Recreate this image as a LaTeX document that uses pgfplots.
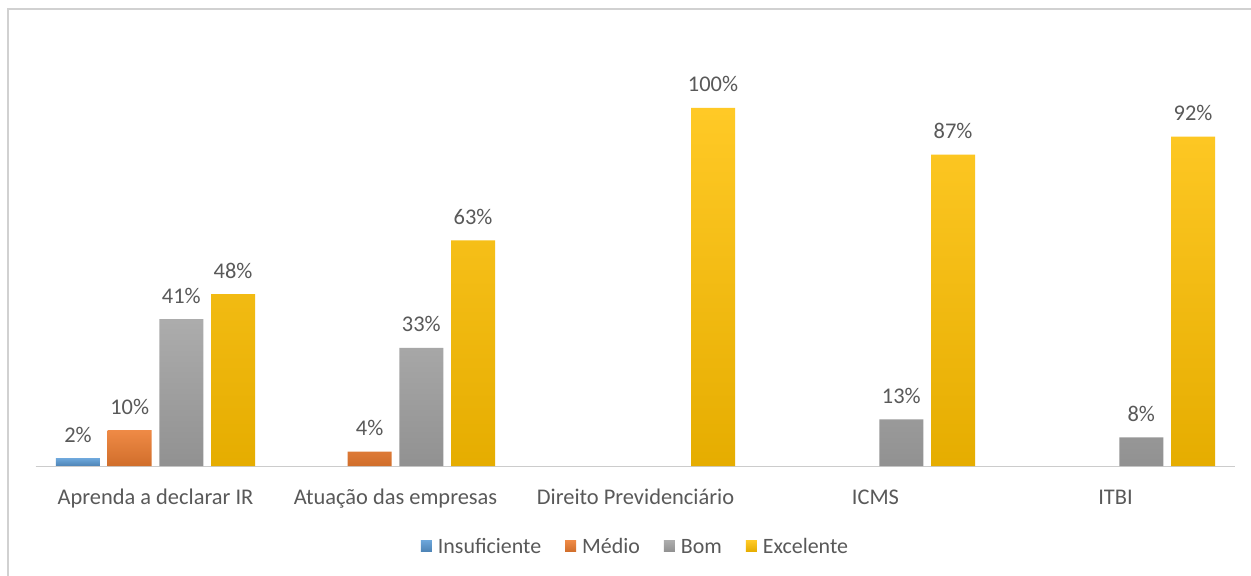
\documentclass[border=0pt]{standalone}
\usepackage{pgfplots}
\pgfplotsset{compat=1.18}
\usepackage{fontspec}
\setmainfont{Carlito}
\definecolor{cBlue}{HTML}{5B9BD5}
\definecolor{cOrange}{HTML}{ED7D31}
\definecolor{cGray}{HTML}{A5A5A5}
\definecolor{cGold}{HTML}{FFC000}
\definecolor{txt}{HTML}{595959}
\begin{document}
\begin{tikzpicture}
\useasboundingbox (0,0) rectangle (1251bp,576bp);
\fill[white] (0,0) rectangle (1251bp,576bp);
\draw[black!18, line width=1.5bp] (8bp,0) -- (8bp,567bp) -- (1251bp,567bp);
\begin{axis}[
  at={(35.5bp,110bp)}, anchor=south west,
  scale only axis, width=1200bp, height=393.8bp,
  xmin=-0.5, xmax=4.5, ymin=0, ymax=110,
  ybar=7.7bp, bar width=44bp,
  axis x line=bottom, axis y line=none,
  x axis line style={draw=black!20, line width=1bp, -},
  xtick={0,1,2,3,4},
  xticklabels={Aprenda a declarar IR, Atuação das empresas, Direito Previdenciário, ICMS, ITBI},
  xtick style={draw=none},
  xticklabel style={anchor=base, yshift=-36bp, font=\fontsize{22.5}{25}\selectfont, text=txt},
  /pgf/number format/assume math mode=true,
  nodes near coords={\pgfmathprintnumber{\pgfplotspointmeta}\%},
  every node near coord/.append style={anchor=base, yshift=16bp, font=\fontsize{22.5}{25}\selectfont, text=txt},
  clip=false,
  legend columns=-1,
  legend style={at={(0.5,-0.2057)}, anchor=center, draw=none, fill=none,
    font=\fontsize{22}{25}\selectfont, text=txt,
    /tikz/every even column/.append style={column sep=22bp}},
  legend image code/.code={\fill[#1] (0bp,-4.5bp) rectangle (11bp,6.5bp); \path (15bp,0);},
]
\addplot[draw=none, top color=cBlue!90!white, bottom color=cBlue!85!black] coordinates {(0,2)};
\addplot[draw=none, top color=cOrange!90!white, bottom color=cOrange!88!black] coordinates {(0,10) (1,4)};
\addplot[draw=none, top color=cGray!92!white, bottom color=cGray!88!black] coordinates {(0,41) (1,33) (3,13) (4,8)};
\addplot[draw=none, top color=cGold!85!white, bottom color=cGold!90!black] coordinates {(0,48) (1,63) (2,100) (3,87) (4,92)};
\legend{Insuficiente, Médio, Bom, Excelente}
\end{axis}
\end{tikzpicture}
\end{document}
